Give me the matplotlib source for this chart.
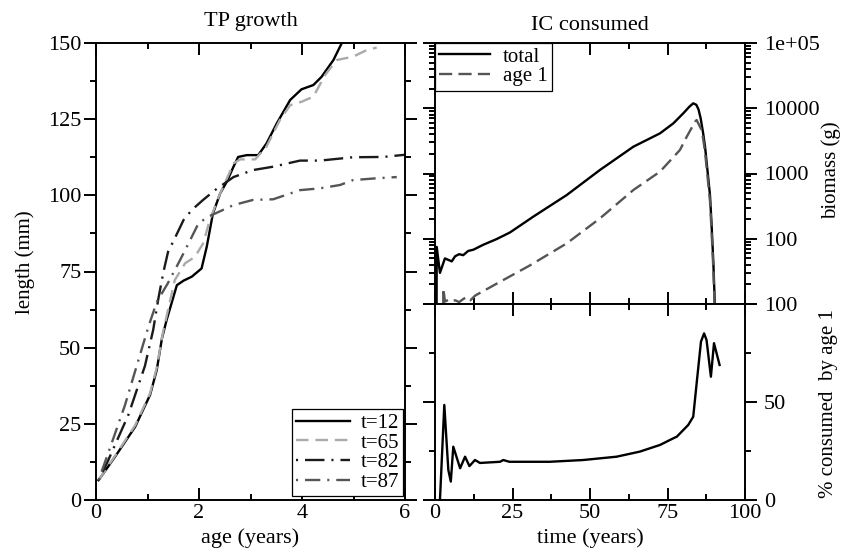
import numpy as np
import matplotlib
matplotlib.use('Agg')
import matplotlib.pyplot as plt
from matplotlib.ticker import MultipleLocator, LogLocator, FuncFormatter, NullFormatter

plt.rcParams['font.family'] = ['Liberation Serif', 'DejaVu Serif']
plt.rcParams['font.size'] = 16
plt.rcParams['lines.scale_dashes'] = False

# TP growth: length (mm) against age (years) for four start times
t12_age = [0.05, 0.37, 0.76, 1.05, 1.18, 1.28, 1.37, 1.57, 1.70, 1.86, 2.05, 2.15, 2.27, 2.41,
           2.54, 2.67, 2.76, 2.93, 3.15, 3.31, 3.51, 3.77, 3.99, 4.22, 4.38, 4.61, 4.77, 4.95]
t12_len = [6.5, 14.2, 24.0, 34.5, 42.7, 53.0, 59.0, 70.5, 72.0, 73.3, 76.0, 83.1, 94.0, 100.6,
           104.5, 109.4, 112.6, 113.2, 113.2, 117.0, 123.6, 131.3, 134.8, 136.2, 138.9, 144.4, 149.9, 155.0]

t65_age = [0.05, 0.37, 0.76, 1.05, 1.18, 1.30, 1.53, 1.73, 1.92, 2.08, 2.21, 2.38, 2.50, 2.67,
           2.80, 3.09, 3.31, 3.57, 3.77, 3.99, 4.22, 4.45, 4.67, 4.99, 5.26, 5.45]
t65_len = [6.5, 14.5, 24.5, 35.0, 43.5, 55.0, 72.2, 77.7, 79.8, 84.2, 91.9, 99.5, 103.9, 110.5,
           111.8, 111.8, 116.0, 124.7, 129.6, 130.7, 132.4, 139.5, 144.4, 145.5, 147.7, 148.5]

t82_age = [0.05, 0.21, 0.63, 0.95, 1.11, 1.21, 1.31, 1.40, 1.53, 1.70, 1.86, 2.08, 2.31, 2.67,
           3.05, 3.44, 3.96, 4.35, 4.99, 5.58, 6.05]
t82_len = [6.5, 12.0, 28.0, 44.0, 55.8, 66.0, 74.9, 81.5, 85.9, 91.9, 95.2, 98.5, 101.7, 106.0,
           108.3, 109.4, 111.4, 111.4, 112.5, 112.6, 113.4]

t87_age = [0.05, 0.27, 0.56, 0.79, 1.02, 1.18, 1.39, 1.60, 1.74, 1.99, 2.18, 2.40, 2.67, 3.05,
           3.44, 3.96, 4.35, 4.74, 4.99, 5.45, 5.84]
t87_len = [6.5, 17.0, 31.0, 44.0, 57.0, 65.0, 71.0, 77.7, 82.3, 90.8, 93.0, 94.7, 96.8, 98.5,
           98.7, 101.7, 102.3, 103.4, 105.0, 105.6, 106.0]

# IC consumed: biomass (g) over time (years)
total_t = [0.5, 0.55, 1.6, 3.2, 5.4, 6.5, 7.8, 9.1, 10.7, 12.4, 15.6, 19.9, 24.2, 31.7, 42.5,
           53.2, 64.0, 72.6, 76.9, 80.1, 82.0, 83.3, 84.3, 85.0, 85.7, 86.5, 87.1, 88.7, 89.2, 89.8, 90.3]
total_b = [5, 75, 30, 50, 45, 54, 58, 56, 65, 68, 81, 99, 125, 218, 468,
           1132, 2576, 4130, 5880, 8375, 10500, 11900, 11300, 9600, 7000, 4130, 2600, 470, 173, 42, 9]

age1_t = [2.6, 2.7, 3.2, 4.2, 5.4, 6.5, 7.8, 9.1, 10.2, 11.4, 13.0, 21.0, 30.6, 42.5, 53.2,
          64.0, 72.6, 79.0, 81.2, 83.9, 84.4, 86.0, 86.5, 87.1, 88.7, 89.2, 89.8, 90.3]
age1_b = [5, 17.4, 10.9, 11.5, 10.9, 11.4, 10.7, 11.9, 12.8, 11.4, 13.5, 21.9, 39, 85, 205,
          559, 1070, 2290, 3660, 6220, 6600, 4640, 3400, 2150, 380, 135, 33, 7]

# share of the total consumed by age 1 (%)
pct_t = [1.6, 3.0, 4.3, 5.1, 5.9, 8.1, 9.7, 11.1, 12.9, 14.5, 21.0, 22.0, 24.0, 37.0, 47.8,
         58.6, 66.1, 72.6, 76.9, 78.0, 79.6, 81.7, 83.3, 84.4, 85.8, 86.8, 87.6, 89.0, 90.0, 91.8]
pct_v = [0, 48.5, 15.3, 9.4, 27.2, 16.2, 22.1, 17.3, 20.4, 18.9, 19.5, 20.4, 19.5, 19.5, 20.4,
         22.1, 24.7, 28.1, 31.5, 32.3, 34.9, 38.3, 42.5, 59.5, 80.8, 85.0, 81.6, 62.9, 80.0, 68.9]

W, H = 844, 552
fig = plt.figure(figsize=(W / 100, H / 100), dpi=100)
fig.patch.set_facecolor('white')


def box(x0, y0, x1, y1):
    # pixel box -> figure fraction
    return [x0 / W, 1 - y1 / H, (x1 - x0) / W, (y1 - y0) / H]


ax1 = fig.add_axes(box(96, 43, 405, 500))
ax2 = fig.add_axes(box(435, 43, 745, 304))
ax3 = fig.add_axes(box(435, 304, 745, 500))

for ax in (ax1, ax2, ax3):
    for s in ax.spines.values():
        s.set_linewidth(1.4)
    ax.tick_params(axis='x', which='both', direction='in', top=True, bottom=True, width=1.4, pad=3)
    ax.tick_params(axis='y', which='both', direction='out', left=True, right=True, width=1.4, pad=2)
    ax.tick_params(which='major', length=8.6)
    ax.tick_params(which='minor', length=4.3)

lw = 1.7
ax1.plot(t12_age, t12_len, color='black', lw=lw, label='t=12')
ax1.plot(t65_age, t65_len, color='#aaaaaa', lw=lw, dashes=(9, 5), label='t=65')
ax1.plot(t82_age, t82_len, color='#1a1a1a', lw=lw, dashes=(1.5, 5, 14, 5), label='t=82')
ax1.plot(t87_age, t87_len, color='#555555', lw=lw, dashes=(1.5, 5, 11, 5), label='t=87')
ax1.set_xlim(0, 6)
ax1.set_ylim(0, 150)
ax1.xaxis.set_major_locator(MultipleLocator(2))
ax1.xaxis.set_minor_locator(MultipleLocator(1))
ax1.yaxis.set_major_locator(MultipleLocator(25))
ax1.yaxis.set_minor_locator(MultipleLocator(12.5))
ax1.set_title('TP growth', pad=12, fontsize=16)
ax1.set_xlabel('age (years)')
ax1.set_ylabel('length (mm)', fontsize=15)
ax1.xaxis.set_label_coords(0.5, -0.062)
ax1.yaxis.set_label_coords(-0.197, 0.52)
leg1 = ax1.legend(loc='lower right', bbox_to_anchor=(0.9935, 0.0088), borderaxespad=0,
                  fancybox=False, framealpha=1, edgecolor='black', handlelength=2.6,
                  handletextpad=0.5, labelspacing=0.0, borderpad=0.2, fontsize=15)
leg1.get_frame().set_linewidth(0.9)

ax2.plot(total_t, total_b, color='black', lw=lw, label='total')
ax2.plot(age1_t, age1_b, color='#555555', lw=lw, dashes=(9.5, 4.5), label='age 1')
ax2.set_yscale('log')
ax2.set_xlim(0, 100)
ax2.set_ylim(10, 1e5)
ax2.xaxis.set_major_locator(MultipleLocator(25))
ax2.xaxis.set_minor_locator(MultipleLocator(12.5))
ax2.yaxis.set_major_locator(LogLocator(base=10, numticks=10))
ax2.yaxis.set_minor_locator(LogLocator(base=10, subs=np.arange(2, 10), numticks=10))
ax2.yaxis.set_minor_formatter(NullFormatter())
ax2.yaxis.set_major_formatter(FuncFormatter(
    lambda v, p: '1e+05' if v >= 1e5 else ('' if v < 50 else f'{v:.0f}')))
ax2.tick_params(axis='x', labelbottom=False)
ax2.tick_params(axis='y', labelleft=False, labelright=True, pad=5)
ax2.set_title('IC consumed', pad=9, fontsize=16)
ax2.yaxis.set_label_position('right')
ax2.set_ylabel('biomass (g)', fontsize=15)
ax2.yaxis.set_label_coords(1.245, 0.513)
leg2 = ax2.legend(loc='upper left', bbox_to_anchor=(0, 1), borderaxespad=0,
                  fancybox=False, framealpha=1, edgecolor='black', handlelength=2.45,
                  handletextpad=0.6, labelspacing=0.0, borderpad=0.2, fontsize=15)
leg2.get_frame().set_linewidth(0.9)

ax3.plot(pct_t, pct_v, color='black', lw=lw)
ax3.set_xlim(0, 100)
ax3.set_ylim(0, 100)
ax3.xaxis.set_major_locator(MultipleLocator(25))
ax3.xaxis.set_minor_locator(MultipleLocator(12.5))
ax3.yaxis.set_major_locator(MultipleLocator(50))
ax3.yaxis.set_minor_locator(MultipleLocator(25))
ax3.tick_params(axis='y', labelleft=False, labelright=True, pad=5)
ax3.set_xlabel('time (years)')
ax3.xaxis.set_label_coords(0.5, -0.146)
ax3.yaxis.set_label_position('right')
ax3.set_ylabel('% consumed  by age 1', fontsize=15)
ax3.yaxis.set_label_coords(1.239, 0.49)

fig.savefig('out.png', dpi=100)
